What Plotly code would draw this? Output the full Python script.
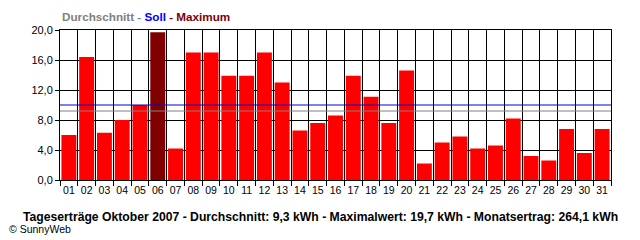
import plotly.graph_objects as go

days = ["01","02","03","04","05","06","07","08","09","10","11","12","13","14","15","16",
        "17","18","19","20","21","22","23","24","25","26","27","28","29","30","31"]
yields_kwh = [6.0,16.4,6.3,8.0,10.0,19.7,4.2,17.0,17.0,13.9,13.9,17.0,13.0,6.6,7.6,8.6,
              13.9,11.1,7.6,14.6,2.2,5.0,5.8,4.2,4.6,8.2,3.2,2.6,6.8,3.6,6.8]
average_kwh = 9.2
target_kwh = 10.0
y_ticks = [0, 4, 8, 12, 16, 20]

title_text = ("Tageserträge Oktober 2007 - Durchschnitt: 9,3 kWh - Maximalwert: 19,7 kWh"
              " - Monatsertrag: 264,1 kWh")

max_val = max(yields_kwh)
colors = ["#800000" if v == max_val else "#FF0000" for v in yields_kwh]

fig = go.Figure()
fig.add_trace(go.Bar(x=days, y=yields_kwh, marker=dict(color=colors, line=dict(width=0)),
                     hoverinfo="x+y"))

fig.add_shape(type="line", xref="paper", x0=0, x1=1, yref="y", y0=average_kwh, y1=average_kwh,
              line=dict(color="#808080", width=1))
fig.add_shape(type="line", xref="paper", x0=0, x1=1, yref="y", y0=target_kwh, y1=target_kwh,
              line=dict(color="#0000CC", width=1))

font_main = "Liberation Sans, Arial, sans-serif"

fig.update_layout(
    width=640, height=240,
    margin=dict(l=60, r=29, t=30, b=60),
    paper_bgcolor="white", plot_bgcolor="white",
    bargap=0.16,
    showlegend=False,
    separators=",.",
    font=dict(family=font_main, size=10, color="black"),
    xaxis=dict(type="category", tickson="boundaries", showgrid=True, gridcolor="black",
               gridwidth=1, ticks="outside", ticklen=5, tickcolor="black", tickwidth=1,
               showline=True, linecolor="black", linewidth=1, mirror=True, tickangle=0,
               tickfont=dict(size=10.5), fixedrange=True),
    yaxis=dict(range=[0, 20], tickvals=y_ticks, tickformat=".1f", showgrid=True,
               gridcolor="black", gridwidth=1, ticks="outside", ticklen=4, tickcolor="black",
               showline=True, linecolor="black", linewidth=1, mirror=True, zeroline=False,
               tickfont=dict(size=11), fixedrange=True),
    annotations=[
        dict(xref="paper", yref="paper", x=0, y=1, yshift=14, xanchor="left", yanchor="middle",
             showarrow=False,
             text="<b><span style='color:#808080'>Durchschnitt</span> "
                  "<span style='color:#808080'>-</span> "
                  "<span style='color:#0000FF'>Soll</span> "
                  "<span style='color:#800000'>- Maximum</span></b>",
             font=dict(size=11.7, family=font_main)),
        dict(xref="paper", yref="paper", x=0.5, y=0, yshift=-37, xshift=-15,
             xanchor="center", yanchor="middle", showarrow=False,
             text="<b>" + title_text + "</b>", font=dict(size=12.2, family=font_main)),
        dict(xref="paper", yref="paper", x=0, xshift=-53, y=0, yshift=-49,
             xanchor="left", yanchor="middle", showarrow=False,
             text="© SunnyWeb", font=dict(size=10.5, family=font_main)),
    ],
)

fig.write_html("out.html")
